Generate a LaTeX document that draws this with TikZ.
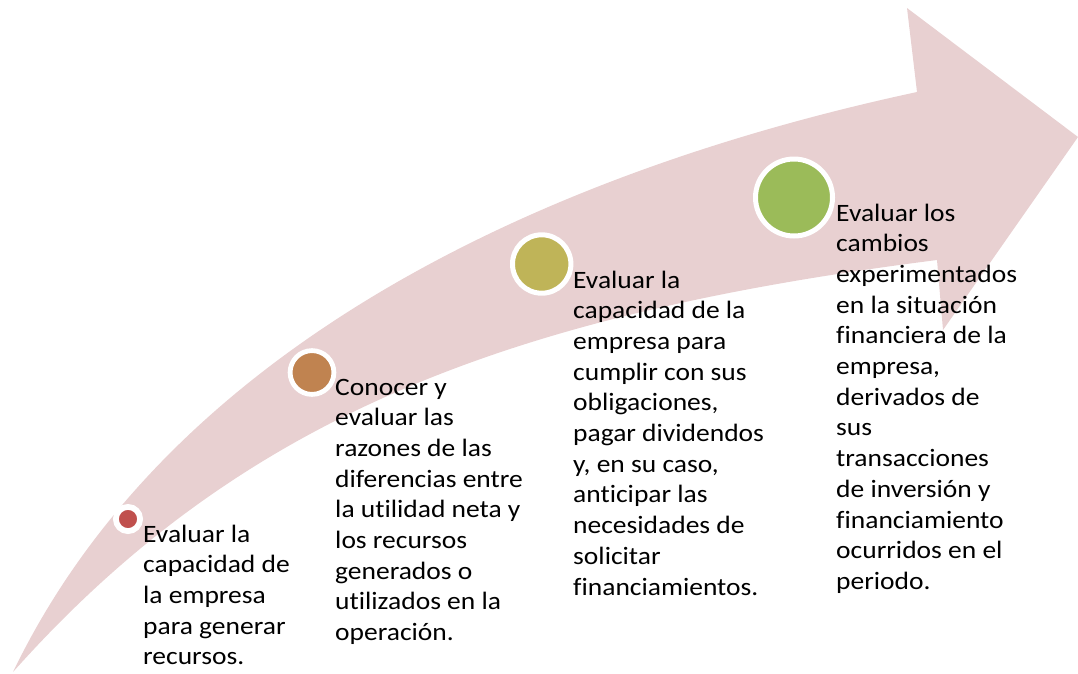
\documentclass[tikz,border=0pt]{standalone}
\usepackage{fontspec}
\setmainfont{Carlito}[FakeStretch=1.1,Ligatures={NoCommon}]
\definecolor{arrowpink}{RGB}{232,208,209}
\definecolor{dotred}{RGB}{192,80,77}
\definecolor{dotbrown}{RGB}{192,131,80}
\definecolor{dotolive}{RGB}{191,180,88}
\definecolor{dotgreen}{RGB}{155,187,89}
\begin{document}
\begin{tikzpicture}[x=1pt,y=-1pt,
  dot/.style={circle,draw=white,inner sep=0pt},
  txt/.style={anchor=base west,inner sep=0pt,align=left,
    font=\fontsize{25}{30.7}\selectfont}]
\useasboundingbox (0,0) rectangle (1078,673);
% arrow
\coordinate (tail) at (13,672);
\coordinate (shoulderup) at (917,92);
\coordinate (headtop) at (907,8);
\coordinate (tip) at (1078,137);
\coordinate (headlow) at (943,330);
\coordinate (shoulderlow) at (937,260);
\fill[arrowpink] (tail) .. controls (175,336) and (563,168) .. (shoulderup)
  -- (headtop) -- (tip) -- (headlow) -- (shoulderlow)
  .. controls (513,314) and (243,414) .. (tail) -- cycle;
% dots
\node[dot,fill=dotred,line width=5.8pt,minimum size=24.2pt] (c1) at (128,519) {};
\node[dot,fill=dotbrown,line width=4.8pt,minimum size=43.8pt] (c2) at (312,372.5) {};
\node[dot,fill=dotolive,line width=5pt,minimum size=58.4pt] (c3) at (541.7,264) {};
\node[dot,fill=dotgreen,line width=5pt,minimum size=77pt] (c4) at (794,197.5) {};
% texts (anchored at the baseline of the last line)
\node[txt] (t1) at (143,664.8) {Evaluar la\\capacidad de\\la empresa\\para generar\\recursos.};
\node[txt] (t2) at (335,640.6) {Conocer y\\evaluar las\\razones de las\\diferencias entre\\la utilidad neta y\\los recursos\\generados o\\utilizados en la\\operación.};
\node[txt] (t3) at (573,595) {Evaluar la\\capacidad de la\\empresa para\\cumplir con sus\\obligaciones,\\pagar dividendos\\y, en su caso,\\anticipar las\\necesidades de\\solicitar\\financiamientos.};
\node[txt] (t4) at (836,589.4) {Evaluar los\\cambios\\experimentados\\en la situación\\financiera de la\\empresa,\\derivados de\\sus\\transacciones\\de inversión y\\financiamiento\\ocurridos en el\\periodo.};
\end{tikzpicture}
\end{document}
